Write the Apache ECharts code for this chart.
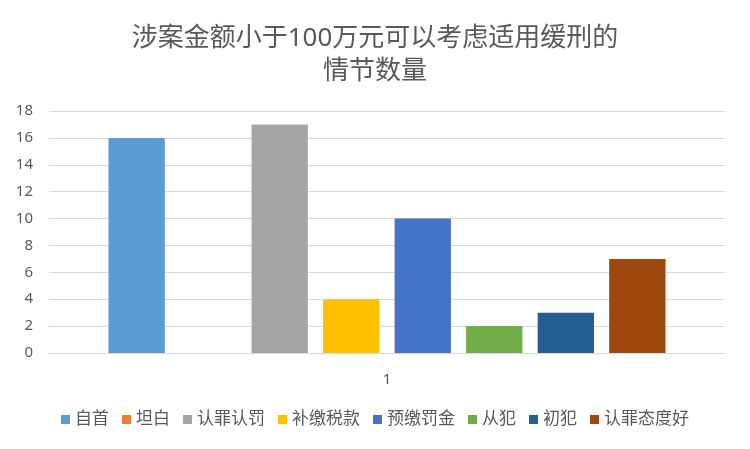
<!DOCTYPE html>
<html>
<head>
<meta charset="utf-8">
<script src="https://cdn.jsdelivr.net/npm/echarts@6/dist/echarts.min.js"></script>
<style>
  html, body { margin: 0; padding: 0; background: #fff; }
  #chart { width: 750px; height: 449px; }
</style>
</head>
<body>
<div id="chart"></div>
<script>
(function(){
    var myChart = echarts.init(document.getElementById('chart'));

    var categories = ['1'];
    var seriesNames = ['自首', '坦白', '认罪认罚', '补缴税款', '预缴罚金', '从犯', '初犯', '认罪态度好'];
    var seriesValues = [16, 0, 17, 4, 10, 2, 3, 7];
    var seriesColors = ['#5B9BD5', '#ED7D31', '#A5A5A5', '#FFC000', '#4472C4', '#70AD47', '#255E91', '#9E480E'];

    var font = '"Noto Sans", "Noto Sans CJK SC", sans-serif';

    var series = seriesNames.map(function (name, i) {
        return {
            name: name,
            type: 'bar',
            data: [seriesValues[i]],
            barGap: '27%',
            barCategoryGap: '17.6%',
            itemStyle: { color: seriesColors[i] }
        };
    });

    var option = {
        textStyle: { fontFamily: font },
        title: {
            text: '涉案金额小于100万元可以考虑适用缓刑的\n情节数量',
            left: 'center',
            top: 17,
            textStyle: {
                color: '#595959',
                fontSize: 26,
                fontWeight: 'normal',
                lineHeight: 33,
                fontFamily: font
            }
        },
        legend: {
            bottom: 16,
            left: 'center',
            itemWidth: 9,
            itemHeight: 9,
            itemGap: 13,
            icon: 'rect',
            textStyle: { color: '#595959', fontSize: 17, fontFamily: font },
            data: seriesNames
        },
        grid: { left: 49, right: 25, top: 111, bottom: 96, containLabel: false },
        xAxis: {
            type: 'category',
            data: categories,
            axisLine: { lineStyle: { color: '#D9D9D9' } },
            axisTick: { show: false },
            axisLabel: { color: '#595959', fontSize: 15, margin: 19 }
        },
        yAxis: {
            type: 'value',
            min: 0,
            max: 18,
            interval: 2,
            axisLine: { show: false },
            axisTick: { show: false },
            axisLabel: { color: '#595959', fontSize: 15, margin: 16 },
            splitLine: { lineStyle: { color: '#D9D9D9' } }
        },
        series: series
    };

    myChart.setOption(option);
})()
</script>
</body>
</html>
